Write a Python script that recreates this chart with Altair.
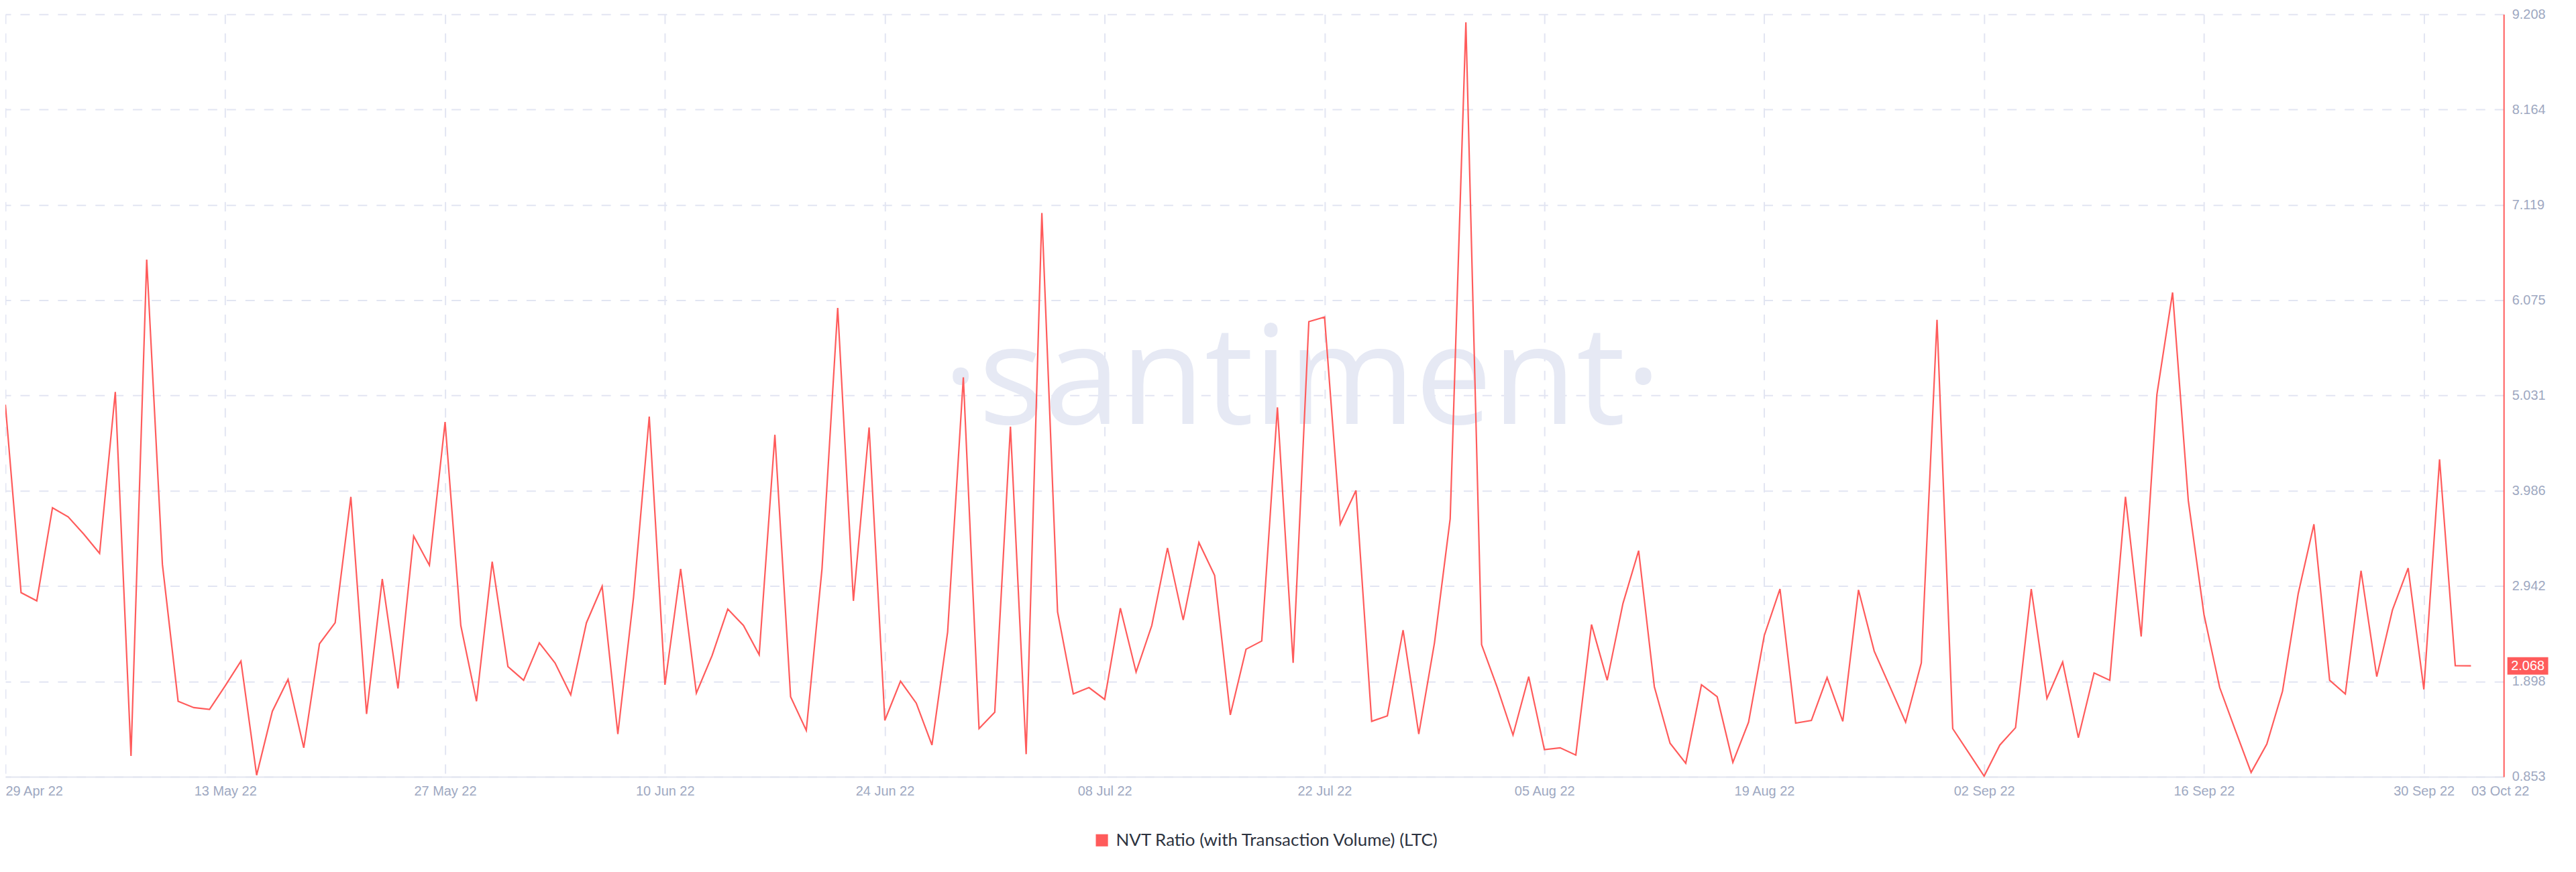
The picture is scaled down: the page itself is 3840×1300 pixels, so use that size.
import altair as alt
import pandas as pd

# ---------------- data ----------------
series_name = "NVT Ratio (with Transaction Volume) (LTC)"
start_date = "2022-04-29"
nvt_values = [
    4.93, 2.87, 2.78, 3.80, 3.70, 3.51, 3.30, 5.07, 1.08, 6.52,
    3.18, 1.68, 1.61, 1.59, 1.85, 2.12, 0.87, 1.57, 1.92, 1.17,
    2.31, 2.54, 3.92, 1.54, 3.02, 1.82, 3.49, 3.17, 4.74, 2.51,
    1.68, 3.21, 2.06, 1.91, 2.32, 2.10, 1.75, 2.54, 2.94, 1.32,
    2.82, 4.80, 1.86, 3.13, 1.77, 2.18, 2.69, 2.51, 2.19, 4.60,
    1.73, 1.36, 3.13, 5.99, 2.78, 4.68, 1.47, 1.90, 1.66, 1.20,
    2.44, 5.23, 1.38, 1.56, 4.69, 1.10, 7.03, 2.66, 1.76, 1.83,
    1.70, 2.70, 2.00, 2.51, 3.36, 2.57, 3.42, 3.06, 1.53, 2.25,
    2.34, 4.90, 2.10, 5.84, 5.89, 3.62, 3.99, 1.46, 1.52, 2.46,
    1.32, 2.32, 3.68, 9.12, 2.30, 1.83, 1.31, 1.95, 1.15, 1.17,
    1.09, 2.52, 1.91, 2.75, 3.33, 1.84, 1.22, 1.00, 1.86, 1.73,
    1.01, 1.45, 2.40, 2.91, 1.44, 1.47, 1.94, 1.46, 2.90, 2.23,
    1.84, 1.45, 2.10, 5.86, 1.38, 1.12, 0.86, 1.20, 1.39, 2.91,
    1.71, 2.11, 1.28, 1.99, 1.91, 3.92, 2.39, 5.04, 6.16, 3.88,
    2.63, 1.83, 1.36, 0.90, 1.21, 1.79, 2.86, 3.62, 1.91, 1.76,
    3.11, 1.95, 2.68, 3.14, 1.81, 4.33, 2.07, 2.068,
]
y_ticks = [0.853, 1.898, 2.942, 3.986, 5.031, 6.075, 7.119, 8.164, 9.208]
x_tick_dates = [
    (4, 29), (5, 13), (5, 27), (6, 10), (6, 24), (7, 8), (7, 22),
    (8, 5), (8, 19), (9, 2), (9, 16), (9, 30), (10, 3),
]
watermark_text = ["·santiment·"]

dates = pd.date_range(start_date, periods=len(nvt_values), freq="D")
df = pd.DataFrame({
    "date": dates.strftime("%Y-%m-%dT%H:%M:%S"),
    "value": nvt_values,
    "series": series_name,
})
last_df = pd.DataFrame({
    "value": [nvt_values[-1]],
    "label": [f"{nvt_values[-1]:.3f}"],
})
wm_df = pd.DataFrame({"t": watermark_text})

# ---------------- style ----------------
RED = "#ff5b5b"
GRID = "#e2e5f2"
LABEL = "#9ea8c1"
AXIS_FONT = "Liberation Sans"

TOP = 12
W, H = 3732, 1139

x_enc = alt.X(
    "date:T",
    scale=alt.Scale(domain=[
        alt.DateTime(year=2022, month=4, date=29),
        alt.DateTime(year=2022, month=10, date=5, hours=2),
    ]),
    axis=alt.Axis(
        title=None,
        values=[alt.DateTime(year=2022, month=m, date=d) for m, d in x_tick_dates],
        format="%d %b %y",
        labelAlign={"condition": {"test": "date(datum.value) == 29 || date(datum.value) == 3",
                                   "value": "left"}, "value": "center"},
        labelOverlap=False,
        labelFont=AXIS_FONT,
        labelFontSize=20,
        labelColor=LABEL,
        labelPadding=12,
        ticks=False,
        tickSize=0,
        domainColor="#e3e6f0",
        domainWidth=2,
        grid=True,
        gridDash=[14, 14],
        gridWidth=2,
        gridColor={"condition": {"test": "date(datum.value) == 3", "value": "transparent"},
                   "value": GRID},
    ),
)

y_enc = alt.Y(
    "value:Q",
    scale=alt.Scale(domain=[y_ticks[0], y_ticks[-1]], nice=False, zero=False),
    axis=alt.Axis(
        title=None,
        orient="right",
        values=y_ticks,
        format=".3f",
        labelFont=AXIS_FONT,
        labelFontSize=20,
        labelColor=LABEL,
        labelPadding=12,
        ticks=False,
        tickSize=0,
        domainColor=RED,
        domainWidth=2,
        grid=True,
        gridDash=[14, 14],
        gridWidth=2,
        gridColor=GRID,
    ),
)

watermark = alt.Chart(wm_df).mark_text(
    font="Open Sans", fontSize=205, color="#e6e9f4",
    align="center", baseline="alphabetic",
).encode(text="t:N", x=alt.value(1937), y=alt.value(632 - 8 - TOP))

line = alt.Chart(df).mark_line(strokeWidth=2.2).encode(
    x=x_enc,
    y=y_enc,
    color=alt.Color(
        "series:N",
        scale=alt.Scale(range=[RED]),
        legend=alt.Legend(
            title=None,
            orient="none",
            legendX=1625,
            legendY=1241 - 8 - TOP,
            symbolType="square",
            symbolSize=330,
            symbolFillColor=RED,
            symbolStrokeColor=RED,
            symbolStrokeWidth=0,
            labelFont="Lato",
            labelFontSize=26,
            labelColor="#2d3340",
            labelLimit=0,
            labelOffset=8,
        ),
    ),
)

tag = alt.Chart(last_df).mark_tick(
    color=RED, orient="horizontal", size=61, thickness=26, opacity=1,
).encode(y=y_enc, x=alt.value(3768))

tag_text = alt.Chart(last_df).mark_text(
    color="white", font=AXIS_FONT, fontSize=20, align="center", baseline="middle",
).encode(y=y_enc, x=alt.value(3768), text="label:N")

chart = alt.layer(watermark, line, tag, tag_text).properties(
    width=W,
    height=H,
    autosize=alt.AutoSizeParams(type="none"),
    padding={"left": 0, "top": TOP, "right": 100, "bottom": 140},
    background="white",
).configure_view(stroke=None)

chart.save("out.html", embed_options={"renderer": "svg", "actions": False})
